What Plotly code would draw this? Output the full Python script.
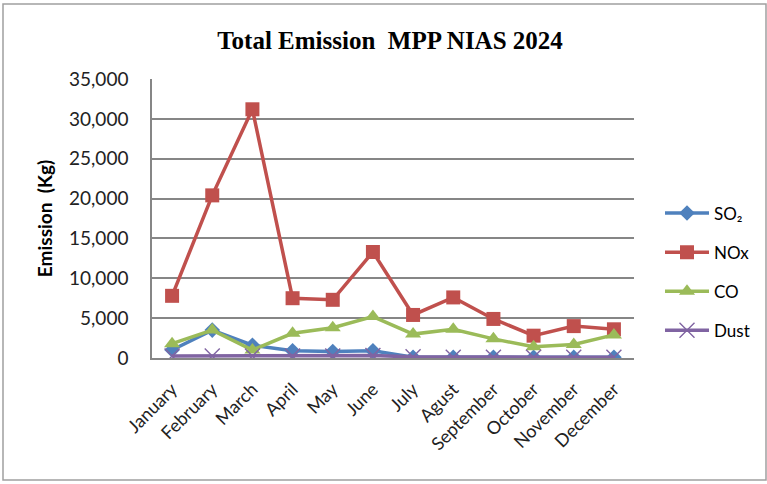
import plotly.graph_objects as go

months = ["January", "February", "March", "April", "May", "June", "July",
          "Agust", "September", "October", "November", "December"]
so2 = [1000, 3500, 1600, 900, 800, 900, 100, 100, 100, 100, 100, 100]
nox = [7800, 20400, 31200, 7500, 7300, 13300, 5400, 7600, 4900, 2800, 4000, 3600]
co = [1800, 3500, 1000, 3100, 3800, 5200, 3000, 3600, 2400, 1400, 1700, 2900]
dust = [250, 250, 250, 250, 250, 300, 150, 100, 100, 100, 100, 100]
y_ticks = [0, 5000, 10000, 15000, 20000, 25000, 30000, 35000]

W, H = 767, 484
L, R, T, B = 152, 133, 79, 126

fig = go.Figure()
series = [
    ("SO₂", so2, "#4F81BD", dict(symbol="diamond", size=12)),
    ("NOx", nox, "#C0504D", dict(symbol="square", size=14)),
    ("CO", co, "#9BBB59", dict(symbol="triangle-up", size=14)),
    ("Dust", dust, "#8064A2", dict(symbol="x-thin-open", size=15, line=dict(width=1.4, color="#9B86BA"))),
]
for name, vals, color, mk in series:
    fig.add_trace(go.Scatter(
        x=months, y=vals, name=name, mode="lines+markers",
        line=dict(color=color, width=3.5),
        marker=dict(color=color, **mk),
        legendgroup=name,
    ))

pw = W - L - R
ph = H - T - B
fig.update_layout(
    width=W, height=H,
    margin=dict(l=L, r=R, t=T, b=B),
    paper_bgcolor="white", plot_bgcolor="white",
    title=dict(text="<b>Total Emission  MPP NIAS 2024</b>",
               font=dict(family="Liberation Serif", size=25, color="black"),
               x=(390 - L) / pw, xref="paper", xanchor="center", y=1 - 40 / H, yanchor="middle"),
    font=dict(family="Lato", size=17, color="#222"),
    showlegend=True,
    legend=dict(x=(660 - L) / pw, xanchor="left", y=(H - B - 272) / ph, yanchor="middle",
                font=dict(size=17, color="black"), tracegroupgap=14, itemwidth=44,
                bgcolor="rgba(0,0,0,0)"),
    xaxis=dict(type="category", tickangle=-45, showgrid=False, range=[-0.5, 11.5],
               showline=True, linecolor="#868686", linewidth=1.5,
               ticks="", ticklabelstandoff=12, tickfont=dict(size=18, color="#222")),
    yaxis=dict(range=[0, 35000], tickvals=y_ticks, tickformat=",",
               showgrid=True, gridcolor="#868686", gridwidth=1.5,
               showline=True, linecolor="#868686", linewidth=1.5,
               zeroline=False, ticks="", ticklen=0, ticklabelstandoff=18,
               title=dict(text="<b>Emission  (Kg)</b>", font=dict(size=19, color="black"), standoff=11),
               tickfont=dict(size=19, color="#222")),
)
# outer chart border
fig.add_shape(type="rect", xref="paper", yref="paper",
              x0=(3 - L) / pw, x1=(W - 1 - L) / pw,
              y0=(H - 480 - B) / ph, y1=(H - 4 - B) / ph,
              line=dict(color="#A0A0A0", width=1.5), layer="below")

fig.write_html("out.html", config={"displayModeBar": False},
               post_script="document.body.style.margin='0';")
